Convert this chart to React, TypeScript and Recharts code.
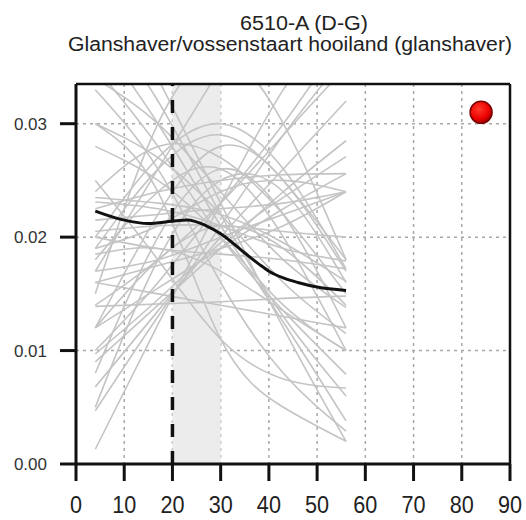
import {
  ComposedChart,
  Line,
  Scatter,
  XAxis,
  YAxis,
  CartesianGrid,
  ReferenceArea,
  ReferenceLine,
} from 'recharts';

const titleLines = ['6510-A (D-G)', 'Glanshaver/vossenstaart hooiland (glanshaver)'];

const xTicks = [0, 10, 20, 30, 40, 50, 60, 70, 80, 90];
const yTicks = [0, 0.01, 0.02, 0.03];

// individual response curves, sampled at grayX
const grayX = [4, 17, 30, 43, 56];
const grayCurves = [
  [0.0013, 0.0123, 0.023, 0.033, 0.04],
  [0.0047, 0.013, 0.021, 0.029, 0.036],
  [0.0068, 0.0135, 0.02, 0.026, 0.032],
  [0.009, 0.014, 0.019, 0.024, 0.0285],
  [0.0097, 0.0145, 0.0195, 0.0235, 0.0271],
  [0.012, 0.0155, 0.019, 0.0225, 0.0256],
  [0.0139, 0.0141, 0.0143, 0.0146, 0.0148],
  [0.016, 0.0175, 0.019, 0.021, 0.024],
  [0.04, 0.032, 0.022, 0.013, 0.006],
  [0.038, 0.03, 0.021, 0.0125, 0.0038],
  [0.045, 0.034, 0.023, 0.012, 0.002],
  [0.035, 0.028, 0.02, 0.0135, 0.0079],
  [0.008, 0.02, 0.026, 0.022, 0.012],
  [0.012, 0.022, 0.028, 0.025, 0.017],
  [0.005, 0.018, 0.025, 0.024, 0.016],
  [0.018, 0.024, 0.026, 0.02, 0.01],
  [0.02, 0.027, 0.03, 0.026, 0.0172],
  [0.0205, 0.021, 0.021, 0.0205, 0.02],
  [0.0231, 0.0225, 0.021, 0.019, 0.0179],
  [0.0235, 0.023, 0.022, 0.0195, 0.0161],
  [0.034, 0.03, 0.024, 0.018, 0.0138],
  [0.03, 0.027, 0.022, 0.016, 0.0115],
  [0.028, 0.025, 0.02, 0.014, 0.01],
  [0.025, 0.018, 0.011, 0.0075, 0.0067],
  [0.03, 0.024, 0.011, 0.005, 0.002],
  [0.033, 0.026, 0.016, 0.008, 0.0029],
  [0.014, 0.018, 0.023, 0.029, 0.035],
  [0.01, 0.016, 0.023, 0.03, 0.038],
  [0.017, 0.026, 0.035, 0.044, 0.05],
  [0.015, 0.03, 0.036, 0.03, 0.018],
  [0.019, 0.021, 0.024, 0.025, 0.024],
  [0.02, 0.019, 0.0185, 0.018, 0.0172],
  [0.017, 0.018, 0.02, 0.022, 0.024],
  [0.0215, 0.022, 0.0225, 0.023, 0.024],
  [0.0225, 0.024, 0.025, 0.0255, 0.0256],
  [0.016, 0.015, 0.014, 0.013, 0.012],
  [0.0185, 0.019, 0.017, 0.0135, 0.01],
  [0.024, 0.028, 0.027, 0.022, 0.015],
  [0.019, 0.026, 0.029, 0.025, 0.018],
  [0.012, 0.018, 0.021, 0.019, 0.014],
];

// mean response curve
const meanX = [4, 10, 15, 20, 23, 27, 30, 35, 38, 40, 43, 46, 50, 56];
const meanY = [0.0223, 0.0215, 0.0212, 0.0214, 0.0215, 0.021, 0.0203, 0.0186, 0.0176, 0.0170, 0.0164, 0.0160, 0.0156, 0.0153];

const optimumX = 20;
const bandX = [20, 30];
const marker = [{ x: 84, y: 0.031 }];

const yMax = 0.0335;

const W = 526;
const H = 520;
const FONT = 'Liberation Sans, Arial, sans-serif';

const grayData = grayCurves.map((c) => c.map((y, i) => ({ x: grayX[i], y })));
const meanData = meanX.map((x, i) => ({ x, y: meanY[i] }));

function RedDot(props: any) {
  const { cx, cy } = props;
  return (
    <g>
      <defs>
        <radialGradient id="redGrad" cx="40%" cy="35%" r="65%">
          <stop offset="0%" stopColor="#ff3a2a" />
          <stop offset="70%" stopColor="#ee0000" />
          <stop offset="100%" stopColor="#a00000" />
        </radialGradient>
      </defs>
      <circle cx={cx} cy={cy} r={11} fill="url(#redGrad)" stroke="#7a0000" strokeWidth={1.5} />
    </g>
  );
}

function XTick(props: any) {
  const { x, y, payload } = props;
  return (
    <g transform={`translate(${x},${y + 30}) scale(0.9,1)`}>
      <text x={0} y={0} textAnchor="middle" fill="#222" fontSize={24} fontFamily={FONT}>
        {payload.value}
      </text>
    </g>
  );
}

export default function App() {
  return (
    <div style={{ position: 'absolute', left: 0, top: 0, width: W, height: H, background: '#fff' }}>
      <svg width={W} height={84} style={{ position: 'absolute', left: 0, top: 0 }}>
        <text x={304} y={30} textAnchor="middle" fontSize={19.5} fill="#222" fontFamily={FONT}
          textLength={128} lengthAdjust="spacingAndGlyphs">
          {titleLines[0]}
        </text>
        <text x={290} y={51} textAnchor="middle" fontSize={19.5} fill="#222" fontFamily={FONT}
          textLength={444} lengthAdjust="spacingAndGlyphs">
          {titleLines[1]}
        </text>
      </svg>
      <ComposedChart width={W} height={H} margin={{ top: 84, right: 16, bottom: 0, left: 16 }}>
        <ReferenceArea x1={bandX[0]} x2={bandX[1]} y1={0} y2={yMax} fill="#ececec" fillOpacity={1} stroke="none" />
        <CartesianGrid stroke="#a8a8a8" strokeWidth={1.5} strokeDasharray="3 4" />
        <XAxis
          type="number"
          dataKey="x"
          domain={[0, 90]}
          ticks={xTicks}
          height={56}
          tickSize={17}
          tick={<XTick />}
          axisLine={{ stroke: '#111', strokeWidth: 3 }}
          tickLine={{ stroke: '#111', strokeWidth: 3 }}
          allowDataOverflow
        />
        <YAxis
          type="number"
          dataKey="y"
          domain={[0, yMax]}
          ticks={yTicks}
          width={60}
          tickSize={16}
          tickMargin={13}
          tickFormatter={(v: number) => v.toFixed(2)}
          tick={{ fill: '#333', fontSize: 17, fontFamily: FONT }}
          axisLine={{ stroke: '#111', strokeWidth: 3 }}
          tickLine={{ stroke: '#111', strokeWidth: 3 }}
          allowDataOverflow
        />
        {grayData.map((d, i) => (
          <Line
            key={i}
            data={d}
            dataKey="y"
            type="natural"
            stroke="#c4c4c4"
            strokeWidth={1.6}
            dot={false}
            activeDot={false}
            isAnimationActive={false}
          />
        ))}
        <ReferenceLine x={optimumX} stroke="#111" strokeWidth={3.5} strokeDasharray="13 14" />
        <Line
          data={meanData}
          dataKey="y"
          type="monotone"
          stroke="#111"
          strokeWidth={3}
          dot={false}
          activeDot={false}
          isAnimationActive={false}
        />
        <ReferenceLine y={yMax} stroke="#111" strokeWidth={2.5} />
        <ReferenceLine x={90} stroke="#111" strokeWidth={2.5} />
        <Scatter data={marker} dataKey="y" shape={<RedDot />} isAnimationActive={false} />
      </ComposedChart>
    </div>
  );
}
